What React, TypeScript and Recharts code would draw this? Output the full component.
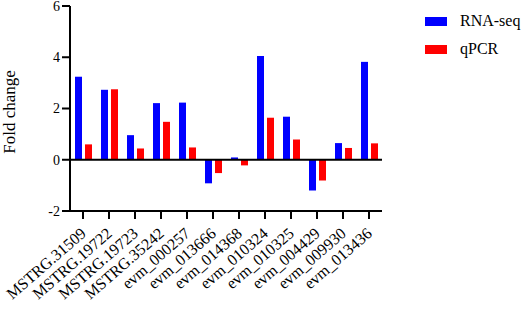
import React from "react"
import {
  Bar,
  BarChart,
  Legend,
  ReferenceLine,
  XAxis,
  YAxis,
} from "recharts"

const genes = [
  "MSTRG.31509",
  "MSTRG.19722",
  "MSTRG.19723",
  "MSTRG.35242",
  "evm_000257",
  "evm_013666",
  "evm_014368",
  "evm_010324",
  "evm_010325",
  "evm_004429",
  "evm_009930",
  "evm_013436",
]

const rnaSeq = [3.24, 2.73, 0.96, 2.21, 2.23, -0.92, 0.09, 4.05, 1.68, -1.2, 0.65, 3.82]
const qPCR = [0.6, 2.75, 0.44, 1.48, 0.48, -0.52, -0.22, 1.64, 0.79, -0.81, 0.46, 0.64]

const yTicks = [-2, 0, 2, 4, 6]

const series = [
  { key: "rna", label: "RNA-seq", color: "#0000FF" },
  { key: "qpcr", label: "qPCR", color: "#FF0000" },
]

const data = genes.map((g, i) => ({ gene: g, rna: rnaSeq[i], qpcr: qPCR[i] }))

const FONT = "'Liberation Serif', 'Times New Roman', serif"

function GeneTick({ x, y, payload }: any) {
  return (
    <g transform={`translate(${x + 4},${y + 14}) rotate(-41)`}>
      <text
        x={0}
        y={0}
        textAnchor="end"
        fontFamily={FONT}
        fontSize={16}
        fill="#000"
      >
        {payload.value}
      </text>
    </g>
  )
}

function LegendBox() {
  return (
    <div style={{ fontFamily: FONT, fontSize: 16, color: "#000" }}>
      {series.map((s) => (
        <div
          key={s.key}
          style={{ display: "flex", alignItems: "center", height: 28 }}
        >
          <span
            style={{
              display: "inline-block",
              width: 22,
              height: 9,
              background: s.color,
              marginRight: 13,
            }}
          />
          <span>{s.label}</span>
        </div>
      ))}
    </div>
  )
}

export default function App() {
  return (
    <div style={{ position: "absolute", left: 0, top: 0, background: "#fff" }}>
      <BarChart
        width={526}
        height={312}
        data={data}
        margin={{ top: 6, right: 44, bottom: 6, left: 0 }}
        barGap={3}
        barSize={7}
      >
        <XAxis
          dataKey="gene"
          orientation="bottom"
          interval={0}
          height={95}
          axisLine={{ stroke: "#000", strokeWidth: 2 }}
          tickLine={{ stroke: "#000", strokeWidth: 2 }}
          tickSize={8}
          tick={<GeneTick />}
        />
        <YAxis
          width={70}
          domain={[-2, 6]}
          ticks={yTicks}
          interval={0}
          axisLine={{ stroke: "#000", strokeWidth: 2 }}
          tickLine={{ stroke: "#000", strokeWidth: 2 }}
          tickSize={8}
          tick={{ fontFamily: FONT, fontSize: 14, fill: "#000" }}
          label={{
            content: () => (
              <text
                x={15}
                y={112}
                transform="rotate(-90, 15, 112)"
                textAnchor="middle"
                fontFamily={FONT}
                fontSize={17}
                fill="#000"
              >
                Fold change
              </text>
            ),
          }}
        />
        <Legend
          layout="vertical"
          align="right"
          verticalAlign="top"
          wrapperStyle={{ top: 7, right: 1, width: 100 }}
          content={<LegendBox />}
        />
        <ReferenceLine y={0} stroke="#000" strokeWidth={2} />
        {series.map((s) => (
          <Bar
            key={s.key}
            dataKey={s.key}
            name={s.label}
            fill={s.color}
            isAnimationActive={false}
          />
        ))}
      </BarChart>
    </div>
  )
}
